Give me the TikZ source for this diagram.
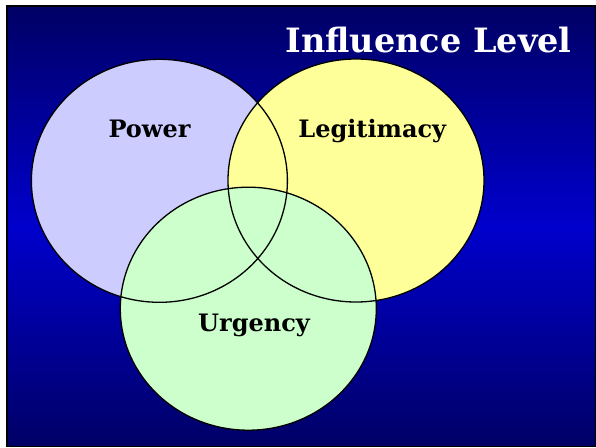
\documentclass[tikz,border=0pt]{standalone}
\usepackage{fontspec}
\setmainfont{DejaVu Serif}

\definecolor{navy}{RGB}{0,0,102}
\definecolor{royal}{RGB}{0,0,204}
\definecolor{powerfill}{RGB}{204,204,255}
\definecolor{legitfill}{RGB}{255,255,153}
\definecolor{urgfill}{RGB}{204,255,204}

\begin{document}
\begin{tikzpicture}[x=1pt,y=-1pt]
  \tikzstyle{setname}=[font=\fontsize{24}{28}\selectfont\bfseries,text=black,anchor=base,inner sep=0pt]
  \tikzstyle{heading}=[font=\fontsize{33.5}{38}\selectfont\bfseries,text=white,anchor=base,inner sep=0pt]
  \tikzstyle{setline}=[draw=black,line width=1.3pt]

  \useasboundingbox (0,0) rectangle (596,447);
  \fill[white] (0,0) rectangle (596,447);
  \fill[black] (6,5) rectangle (596,447);
  \shade[top color=navy,bottom color=navy,middle color=royal] (8.5,7.5) rectangle (594.5,445.5);

        \coordinate (P) at (159.4,180.8);
        \coordinate (L) at (356,180.5);
        \coordinate (U) at (248.3,308.7);

        % fills first, outlines on top
        \fill[powerfill] (P) ellipse (128pt and 121.5pt);
        \fill[legitfill] (L) ellipse (128pt and 121.5pt);
        \fill[urgfill]   (U) ellipse (128pt and 121.5pt);
        \foreach \c in {P,L,U}
            \draw[setline] (\c) ellipse (128pt and 121.5pt);

        \node[heading] (title) at (428.5,52.7) {Influence Level};

        \node[setname] (power)   at (149.5,137.7) {Power};
        \node[setname] (legit)   at (372.3,137)   {Legitimacy};
        \node[setname] (urgency) at (254,331)     {Urgency};

\end{tikzpicture}
\end{document}
